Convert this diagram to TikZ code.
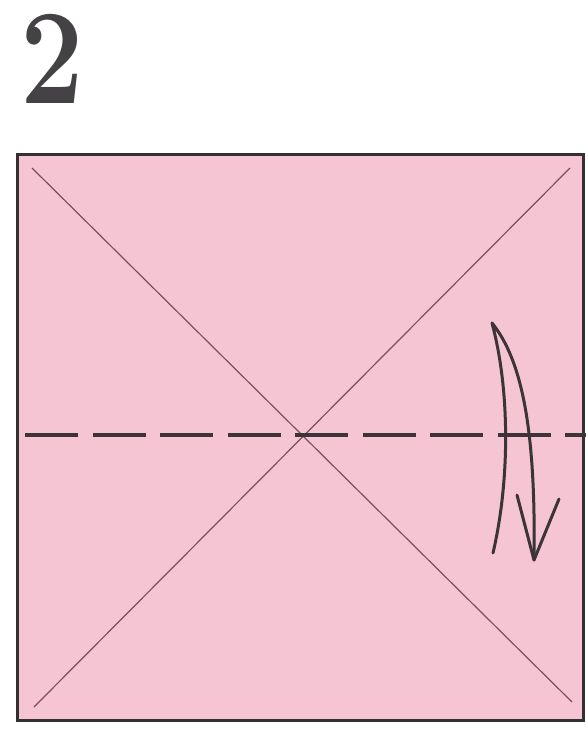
\documentclass[tikz,border=0pt]{standalone}
\usetikzlibrary{calc}
\definecolor{paper}{RGB}{245,197,211}
\definecolor{edge}{RGB}{52,48,50}
\definecolor{crease}{RGB}{120,80,95}
\definecolor{ink}{RGB}{60,52,56}
\definecolor{digit}{RGB}{68,66,68}
\tikzset{
  sheet/.style={fill=paper,draw=edge,line width=3pt},
  diag/.style={draw=crease,line width=1.2pt},
  valley/.style={draw=ink,line width=4pt,dash pattern=on 53pt off 14.5pt},
  foldarrow/.style={draw=ink,line width=3pt,line cap=round,line join=round}
}
\begin{document}
\begin{tikzpicture}[x=1pt,y=-1pt]
\fill[white] (0,0) rectangle (586,729);
\path[use as bounding box] (0,0) rectangle (586,729);
\node[anchor=base west,inner sep=0pt,text=digit,xscale=0.83,text height=80pt,text depth=0pt,font=\fontsize{136}{136}\selectfont\bfseries] (num) at (20,103) {2};
\draw[sheet] (17,154) rectangle (583,720);
\coordinate (tl) at (32,168);
\coordinate (br) at (572,702);
\coordinate (tr) at (570,168);
\coordinate (bl) at (34,707);
\draw[diag] (tl) -- (br);
\draw[diag] (tr) -- (bl);
\coordinate (vl) at (25,435);
\coordinate (vr) at (590,435);
\draw[valley] (vl) -- (vr);
\coordinate (atop) at (492,323);
\coordinate (aend) at (493,553);
\coordinate (atip) at (534,560);
\coordinate (bar1) at (517,495);
\coordinate (bar2) at (559,499);
\draw[foldarrow] (aend) .. controls (510,480) and (510,390) .. (atop) .. controls (522,360) and (536,430) .. (atip);
\draw[foldarrow] (bar1) -- (atip) -- (bar2);
\end{tikzpicture}
\end{document}
